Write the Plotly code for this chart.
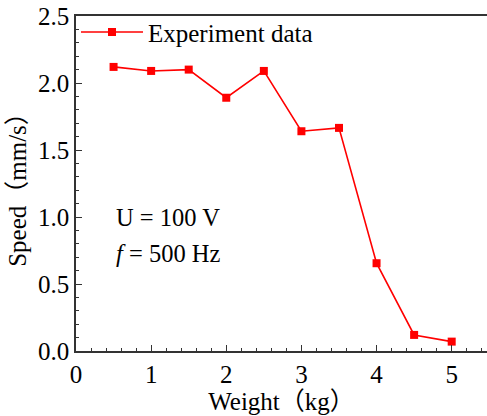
import plotly.graph_objects as go

weight = [0.5, 1.0, 1.5, 2.0, 2.5, 3.0, 3.5, 4.0, 4.5, 5.0]
speed = [2.12, 2.09, 2.10, 1.89, 2.09, 1.64, 1.665, 0.655, 0.12, 0.07]
series_name = "Experiment data"
x_title = "Weight（kg）"
y_title = "Speed（mm/s）"

FONT = "Liberation Serif, Times New Roman, Noto Sans CJK SC, serif"

fig = go.Figure()
fig.add_trace(go.Scatter(
    x=weight, y=speed, mode="lines+markers", name=series_name,
    line=dict(color="#FF0000", width=1.6),
    marker=dict(symbol="square", size=8, color="#FF0000"),
))

axis_common = dict(
    showline=True, linecolor="#333333", linewidth=1.5,
    ticks="inside", ticklen=6, tickwidth=1.2, tickcolor="#333333",
    showgrid=False, zeroline=False,
    tickfont=dict(family=FONT, size=25, color="black"),
    minor=dict(ticks="inside", ticklen=3.5, tickwidth=1.2, tickcolor="#333333"),
)

fig.update_xaxes(range=[0, 5.47], dtick=1, tick0=0, mirror=True, ticklabelstandoff=0,
                 title=dict(text=x_title, font=dict(family=FONT, size=25, color="black"), standoff=2),
                 **axis_common)
fig.update_yaxes(range=[0, 2.5], dtick=0.5, tick0=0, tickformat=".1f", mirror=False,
                 title=dict(text=y_title, font=dict(family=FONT, size=25, color="black"), standoff=4),
                 **axis_common)

fig.add_annotation(x=0.5, y=1.0, xref="x", yref="y", xanchor="left", yanchor="middle",
                   text="U = 100 V", showarrow=False,
                   font=dict(family=FONT, size=24.5, color="black"))
fig.add_annotation(x=0.5, y=0.73, xref="x", yref="y", xanchor="left", yanchor="middle",
                   text="<i>f</i> = 500 Hz", showarrow=False,
                   font=dict(family=FONT, size=24.5, color="black"))

fig.update_layout(
    width=487, height=416,
    margin=dict(l=76, r=0, t=16, b=65),
    plot_bgcolor="white", paper_bgcolor="white",
    showlegend=True,
    legend=dict(x=0.0, y=1.02, xanchor="left", yanchor="top",
                bgcolor="rgba(0,0,0,0)", itemwidth=62,
                font=dict(family=FONT, size=25, color="black")),
)

fig.write_html("out.html")
